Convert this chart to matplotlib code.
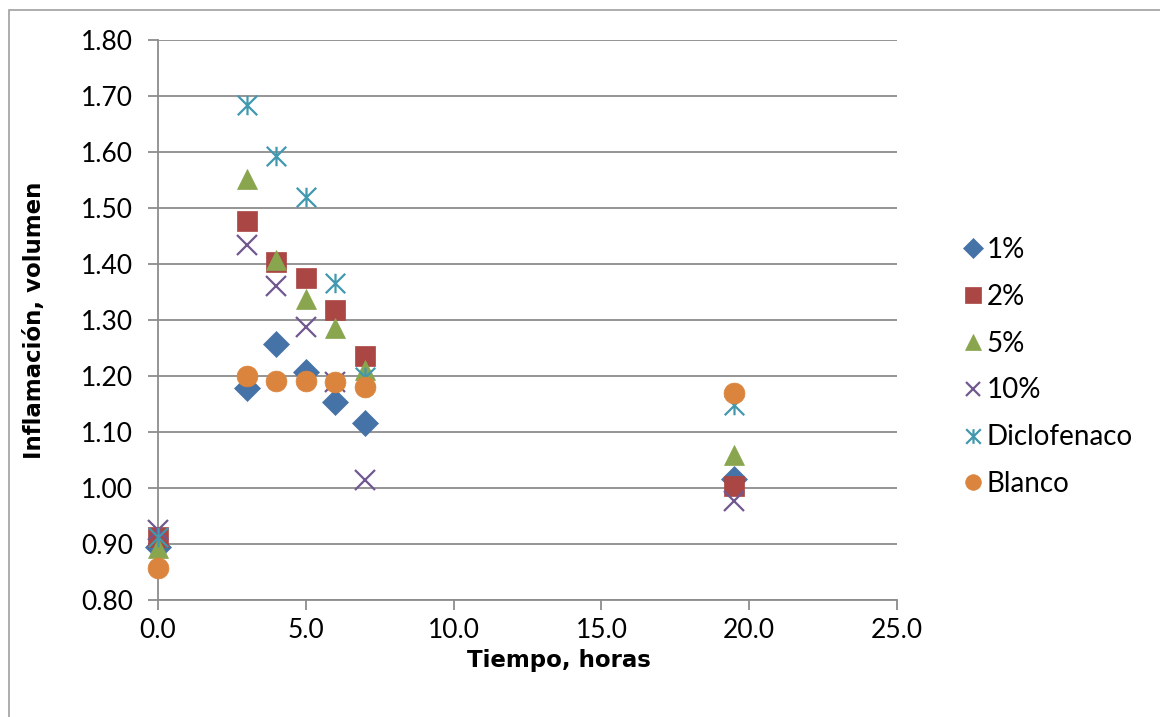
import matplotlib
matplotlib.use("Agg")
import matplotlib.pyplot as plt
from matplotlib.patches import Rectangle
from matplotlib.path import Path

x = [0, 3, 4, 5, 6, 7, 19.5]
s1 = [0.895, 1.179, 1.257, 1.207, 1.153, 1.116, 1.016]
s2 = [0.912, 1.477, 1.404, 1.375, 1.318, 1.236, 1.004]
s5 = [0.893, 1.552, 1.407, 1.337, 1.285, 1.211, 1.059]
s10 = [0.925, 1.434, 1.361, 1.288, 1.190, 1.014, 0.977]
sdic = [0.912, 1.684, 1.593, 1.520, 1.366, 1.198, 1.148]
sbl = [0.857, 1.200, 1.191, 1.191, 1.189, 1.180, 1.170]

labels = ["1%", "2%", "5%", "10%", "Diclofenaco", "Blanco"]
xticks = [0, 5, 10, 15, 20, 25]
yticks = [0.8, 0.9, 1.0, 1.1, 1.2, 1.3, 1.4, 1.5, 1.6, 1.7, 1.8]

star = Path([(0, -1), (0, 1), (-1, -1), (1, 1), (-1, 1), (1, -1)],
            [Path.MOVETO, Path.LINETO, Path.MOVETO, Path.LINETO, Path.MOVETO, Path.LINETO])

fig = plt.figure(figsize=(11.6, 7.17), dpi=100)
fig.patches.append(Rectangle((9/1160, -1), 2, 1 + (717-10)/717, transform=fig.transFigure,
                             fill=False, edgecolor="#A0A0A0", linewidth=1.2))
ax = fig.add_axes([158/1160, 1-600/717, (897-158)/1160, (600-40)/717])

styles = [
    dict(marker="D", color="#4572A7", ms=13),
    dict(marker="s", color="#AA4643", ms=15),
    dict(marker="^", color="#89A54E", ms=15),
    dict(marker="x", color="#71588F", ms=14, mew=1.6),
    dict(marker=star, color="#4198AF", ms=14, mew=1.6),
    dict(marker="o", color="#DB843D", ms=15),
]
series = [s1, s2, s5, s10, sdic, sbl]
for ys, st, lab in zip(series, styles, labels):
    ax.plot(x, ys, linestyle="none", label=lab, marker=st["marker"], color=st["color"],
            markersize=st["ms"], markeredgewidth=st.get("mew", 0.5),
            markeredgecolor=st["color"], clip_on=False, zorder=3)

ax.set_xlim(0, 25)
ax.set_ylim(0.8, 1.8)
ax.set_xticks(xticks)
ax.set_xticklabels([f"{v:.1f}" for v in xticks])
ax.set_yticks(yticks)
ax.set_yticklabels([f"{v:.2f}" for v in yticks])
ax.grid(axis="y", color="#8C8C8C", linewidth=1.3)
ax.set_axisbelow(True)
for side in ["top", "right"]:
    ax.spines[side].set_visible(False)
for side in ["left", "bottom"]:
    ax.spines[side].set_color("#8C8C8C")
    ax.spines[side].set_linewidth(1.3)
ax.tick_params(axis="both", direction="out", length=7, width=1.3, color="#8C8C8C",
               labelsize=19, labelcolor="#000000")
for t in ax.get_xticklabels() + ax.get_yticklabels():
    t.set_fontfamily("Lato")
ax.tick_params(axis="y", pad=11)
ax.tick_params(axis="x", pad=6)

fig.text(559/1160, 1-660/717, "Tiempo, horas", fontsize=16.5, fontweight="bold",
         family="DejaVu Sans", ha="center", va="center")
fig.text(35/1160, 1-320/717, "Inflamación, volumen", fontsize=16.5, fontweight="bold",
         family="DejaVu Sans", ha="center", va="center", rotation=90)

leg = fig.legend(loc="upper left", bbox_to_anchor=(959/1160, 1-237/717), frameon=False,
                 prop={"family": "Lato", "size": 20}, handletextpad=0.0, labelspacing=0.75,
                 handlelength=1.0, markerscale=0.75, borderaxespad=0, borderpad=0)
fig.savefig("out.png", dpi=100)
